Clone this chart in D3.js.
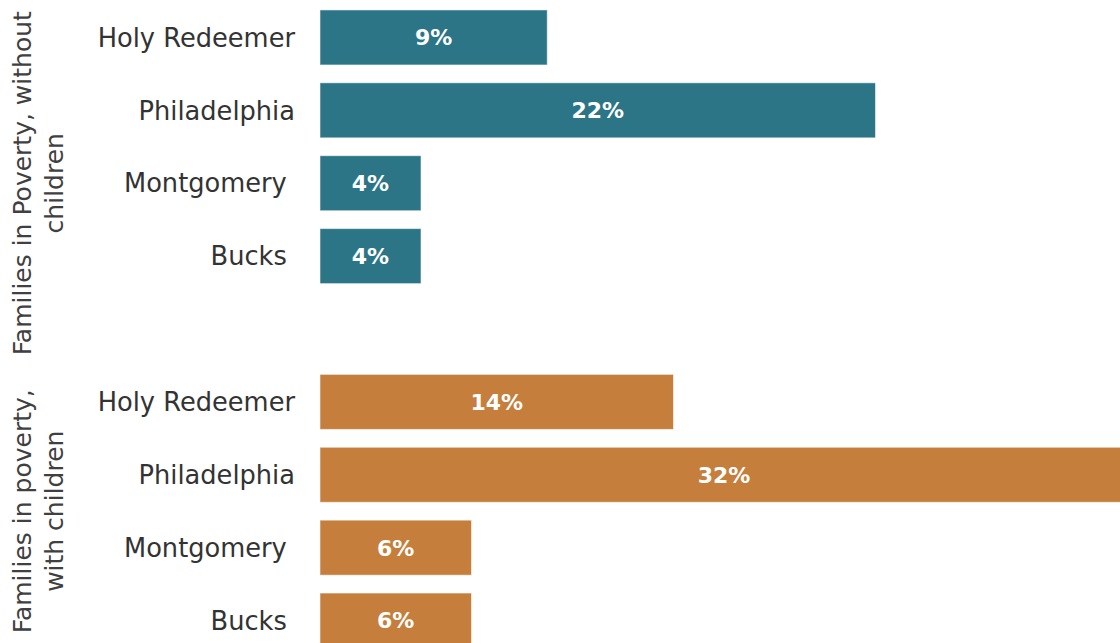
<!DOCTYPE html>
<html>
<head>
<meta charset="utf-8">
<script src="https://cdn.jsdelivr.net/npm/d3@7"></script>
<style>
  body { margin: 0; background: #fff; }
  svg { display: block; font-family: "Century Gothic", "DejaVu Sans", sans-serif; }
  .cat { white-space: pre; }
</style>
</head>
<body>
<div class="chart"></div>
<script>
//Canvas dimensions
var width = 1120,
    height = 643;

//Chart data (two groups of the same four areas)
var groupNames = [["Families in Poverty, without", "children"], ["Families in poverty,", "with children"]];
var categories = ["Holy Redeemer", "Philadelphia", "Montgomery ", "Bucks "];
var withoutChildren = [0.09, 0.22, 0.04, 0.04];
var withChildren = [0.14, 0.32, 0.06, 0.06];
var groupColors = ["#2b7587", "#c57e3b"];

//Rows: group 1 carries an empty slot at its end, like the original sheet
var rows = [];
[withoutChildren, withChildren].forEach(function(series, g) {
  categories.forEach(function(c, i) {
    rows.push({key: g + "-" + i, group: g, name: c, value: series[i]});
  });
  if (g == 0) rows.push({key: g + "-blank", group: g, name: "", value: null});
});

var svg = d3.select(".chart")
            .append("svg")
            .attr("width", width)
            .attr("height", height);

//Scales
var x = d3.scaleLinear().domain([0, 0.32]).range([320, 1128]);
var y = d3.scaleBand()
          .domain(rows.map(function(d) { return d.key; }))
          .range([1, 657])
          .paddingInner(0.245)
          .paddingOuter(0.1225);

var pct = d3.format(".0%");
var bars = rows.filter(function(d) { return d.value != null; });

//Bars
svg.selectAll(".bar")
   .data(bars)
   .enter()
   .append("rect")
   .attr("class", "bar")
   .attr("x", x(0))
   .attr("y", function(d) { return y(d.key); })
   .attr("width", function(d) { return x(d.value) - x(0); })
   .attr("height", y.bandwidth())
   .attr("fill", function(d) { return groupColors[d.group]; })
   .attr("stroke", "#fff")
   .attr("stroke-opacity", 0.55)
   .attr("stroke-width", 1);

//Value labels inside the bars
svg.selectAll(".value")
   .data(bars)
   .enter()
   .append("text")
   .attr("class", "value")
   .attr("x", function(d) { return (x(0) + x(d.value)) / 2; })
   .attr("y", function(d) { return y(d.key) + y.bandwidth() / 2; })
   .attr("dy", "0.36em")
   .attr("text-anchor", "middle")
   .attr("fill", "#fff")
   .attr("font-weight", "bold")
   .attr("font-size", 22)
   .text(function(d) { return pct(d.value); });

//Category labels
svg.selectAll(".cat")
   .data(bars)
   .enter()
   .append("text")
   .attr("class", "cat")
   .attr("x", 295)
   .attr("y", function(d) { return y(d.key) + y.bandwidth() / 2; })
   .attr("dy", "0.36em")
   .attr("text-anchor", "end")
   .attr("fill", "#333")
   .attr("font-size", 25.7)
   .text(function(d) { return d.name; });

//Group labels, rotated and centred on their rows
var groupLabels = svg.selectAll(".group")
   .data(groupNames)
   .enter()
   .append("text")
   .attr("class", "group")
   .attr("transform", function(d, g) {
     var keys = rows.filter(function(r) { return r.group == g; });
     var c = (y(keys[0].key) + y(keys[keys.length - 1].key) + y.bandwidth()) / 2;
     return "translate(31," + c + ") rotate(-90)";
   })
   .attr("text-anchor", "middle")
   .attr("fill", "#404040")
   .attr("font-size", 25);

groupLabels.selectAll("tspan")
   .data(function(d) { return d; })
   .enter()
   .append("tspan")
   .attr("x", 0)
   .attr("y", function(d, i) { return i * 32; })
   .text(function(d) { return d; });
</script>
</body>
</html>
